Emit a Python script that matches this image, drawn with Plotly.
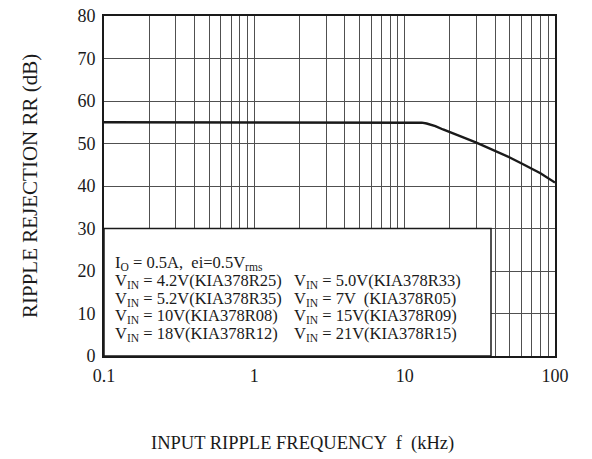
import plotly.graph_objects as go

# Data
freq_khz = [0.1, 1, 10, 12, 13, 14, 15, 16, 18, 20, 25, 30, 40, 50, 60, 70, 80, 100]
rr_db = [55, 55, 55, 55, 54.9, 54.7, 54.4, 54.1, 53.3, 52.6, 51.3, 50.2, 48.3, 46.7, 45.3, 44.1, 43.0, 40.8]

x_tick_vals = [0.1, 1, 10, 100]
x_tick_text = ["0.1", "1", "10", "100"]
y_tick_vals = [0, 10, 20, 30, 40, 50, 60, 70, 80]

x_title = "INPUT RIPPLE FREQUENCY  f  (kHz)"
y_title = "RIPPLE REJECTION RR (dB)"

legend_lines = [
    ["I<sub>O</sub> = 0.5A,  ei=0.5V<sub>rms</sub>", ""],
    ["V<sub>IN</sub> = 4.2V(KIA378R25)", "V<sub>IN</sub> = 5.0V(KIA378R33)"],
    ["V<sub>IN</sub> = 5.2V(KIA378R35)", "V<sub>IN</sub> = 7V  (KIA378R05)"],
    ["V<sub>IN</sub> = 10V(KIA378R08)", "V<sub>IN</sub> = 15V(KIA378R09)"],
    ["V<sub>IN</sub> = 18V(KIA378R12)", "V<sub>IN</sub> = 21V(KIA378R15)"],
]

FONT = "Liberation Serif"
INK = "#1a1a1a"

# plot area on screen = 104..555 x 16..356 (body margin removed via post_script)
L, R, T, B = 104, 37, 16, 103
PW, PH = 592 - L - R, 459 - T - B


def px_to_paper(sx, sy):
    return (sx - L) / PW, (459 - B - sy) / PH


# all log grid positions
grid_vals = []
for dec in [0.1, 1, 10]:
    for m in range(1, 10):
        grid_vals.append(round(dec * m, 6))
grid_vals.append(100)
grid_text = [x_tick_text[x_tick_vals.index(v)] if v in x_tick_vals else "" for v in grid_vals]

fig = go.Figure()
fig.add_trace(go.Scatter(
    x=freq_khz, y=rr_db, mode="lines", line=dict(color=INK, width=2.4),
    showlegend=False, hoverinfo="skip"))

fig.update_layout(
    width=592, height=459,
    margin=dict(l=L, r=R, t=T, b=B, autoexpand=False),
    paper_bgcolor="white", plot_bgcolor="white",
    font=dict(family=FONT, size=16, color=INK),
    showlegend=False,
)

fig.update_xaxes(
    type="log", range=[-1, 2], automargin=False,
    tickvals=grid_vals, ticktext=grid_text, ticklabeloverflow="allow",
    showgrid=True, gridcolor="#505050", gridwidth=1.2,
    showline=True, linecolor=INK, linewidth=2, mirror=True,
    ticks="outside", ticklen=2, tickcolor="rgba(0,0,0,0)",
    tickfont=dict(family=FONT, size=18, color=INK),
    zeroline=False,
)
fig.update_yaxes(
    range=[0, 80], tickvals=y_tick_vals, automargin=False, ticklabeloverflow="allow",
    showgrid=True, gridcolor="#505050", gridwidth=1.2,
    showline=True, linecolor=INK, linewidth=2, mirror=True,
    ticks="outside", ticklen=3, tickcolor="rgba(0,0,0,0)",
    tickfont=dict(family=FONT, size=18, color=INK),
    zeroline=False,
)

# axis titles
tx, ty = px_to_paper(302, 443)
fig.add_annotation(xref="paper", yref="paper", x=tx, y=ty, xanchor="center", yanchor="middle",
                   showarrow=False, text=x_title, font=dict(family=FONT, size=18.5, color=INK))
tx, ty = px_to_paper(30, 186)
fig.add_annotation(xref="paper", yref="paper", x=tx, y=ty, xanchor="center", yanchor="middle",
                   showarrow=False, text=y_title, textangle=-90, font=dict(family=FONT, size=21, color=INK))

# legend box (white, covering the grid)
bx1, _ = px_to_paper(491, 0)
fig.add_shape(type="rect", xref="paper", yref="y", x0=0, x1=bx1, y0=0, y1=30,
              fillcolor="white", line=dict(color=INK, width=1.5), layer="above")

row_y_px = [263, 281, 299, 316, 334]
col_x_px = [113, 292]
for r, row in enumerate(legend_lines):
    for c, txt in enumerate(row):
        if not txt:
            continue
        ax, ay = px_to_paper(col_x_px[c], row_y_px[r])
        fig.add_annotation(
            xref="paper", yref="paper", x=ax, y=ay,
            xanchor="left", yanchor="middle", showarrow=False,
            text=txt, font=dict(family=FONT, size=16.5, color=INK))

fig.write_html("out.html", config={"displayModeBar": False},
               post_script="document.body.style.margin='0';")
